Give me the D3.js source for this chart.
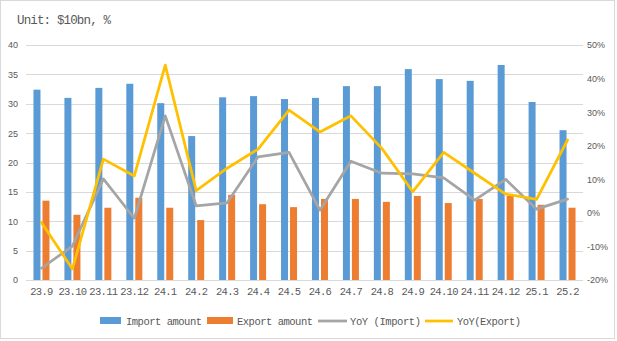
<!DOCTYPE html>
<html><head><meta charset="utf-8">
<script src="https://cdn.jsdelivr.net/npm/d3@7/dist/d3.min.js"></script>
<style>
html,body{margin:0;padding:0;background:#fff;}
svg{display:block;}
</style></head>
<body>
<svg id="chart" width="617" height="341"></svg>
<script>
const categories = ["23.9","23.10","23.11","23.12","24.1","24.2","24.3","24.4","24.5","24.6","24.7","24.8","24.9","24.10","24.11","24.12","25.1","25.2"];
const importAmount = [32.4,31.0,32.7,33.4,30.1,24.5,31.1,31.3,30.8,31.0,33.0,33.0,35.9,34.2,33.9,36.6,30.3,25.5];
const exportAmount = [13.5,11.1,12.3,14.0,12.3,10.2,14.5,12.9,12.4,13.8,13.8,13.3,14.3,13.1,13.8,14.3,12.8,12.3];
const yoyImport = [-16.5,-9.9,10.1,-1.6,28.9,2.1,3.0,16.7,18.0,0.8,15.4,11.8,11.6,10.4,3.8,10.0,1.1,4.1];
const yoyExport = [-2.9,-16.7,16.0,11.0,44.0,6.6,13.3,19.0,30.6,24.1,28.9,19.2,6.3,18.0,11.8,5.6,4.0,21.7];
const leftTicks = [0,5,10,15,20,25,30,35,40];
const rightTicks = [-20,-10,0,10,20,30,40,50];
const title = "Unit: $10bn, %";
const seriesNames = ["Import amount","Export amount","YoY (Import)","YoY(Export)"];
const colors = {imp:"#5B9BD5", exp:"#ED7D31", yImp:"#A5A5A5", yExp:"#FFC000"};

const svg = d3.select("#chart");
const plot = {left:26, right:583, top:45, bottom:280};

// border
svg.append("rect").attr("x",0.5).attr("y",0.5).attr("width",614).attr("height",338)
  .attr("fill","#fff").attr("stroke","#d9d9d9").attr("stroke-width",1);

const x = d3.scaleBand().domain(categories).range([plot.left, plot.right]).paddingInner(0).paddingOuter(0);
const sub = d3.scaleBand().domain(["imp","exp"]).range([-8,8]).paddingInner(2/9);
const yL = d3.scaleLinear().domain([0,40]).range([plot.bottom, plot.top]);
const yR = d3.scaleLinear().domain([-20,50]).range([plot.bottom, plot.top]);
const cx = c => x(c) + x.bandwidth()/2;

// gridlines
svg.append("g").selectAll("line").data(leftTicks).join("line")
  .attr("x1",plot.left).attr("x2",plot.right)
  .attr("y1",d=>Math.round(yL(d))+0.5).attr("y2",d=>Math.round(yL(d))+0.5)
  .attr("stroke","#d9d9d9").attr("stroke-width",1);

// left axis labels
const leftAxis = d3.axisLeft(yL).tickValues(leftTicks).tickSize(0).tickPadding(0);
const gL = svg.append("g").attr("transform",`translate(18,0)`).call(leftAxis);
gL.select(".domain").remove();
gL.selectAll("text").attr("font-family","'Liberation Sans',Arial,sans-serif").attr("font-size",9).attr("fill","#595959");

// right axis labels
const rightAxis = d3.axisRight(yR).tickValues(rightTicks).tickSize(0).tickPadding(0).tickFormat(d=>d+"%");
const gR = svg.append("g").attr("transform",`translate(587,0)`).call(rightAxis);
gR.select(".domain").remove();
gR.selectAll("text").attr("font-family","'Liberation Sans',Arial,sans-serif").attr("font-size",9).attr("fill","#595959");

// x axis labels
const xAxis = d3.axisBottom(x).tickSize(0).tickPadding(0);
const gX = svg.append("g").attr("transform",`translate(0,288)`).call(xAxis);
gX.select(".domain").remove();
gX.selectAll("text").attr("font-family","'Liberation Mono',monospace").attr("font-size",10.5)
  .attr("letter-spacing",-0.7).attr("fill","#595959");

// bars
svg.append("g").selectAll("rect").data(categories).join("rect")
  .attr("x",(c)=>cx(c)+sub("imp")).attr("width",sub.bandwidth())
  .attr("y",(c,i)=>yL(importAmount[i])).attr("height",(c,i)=>yL(0)-yL(importAmount[i]))
  .attr("fill",colors.imp);
svg.append("g").selectAll("rect").data(categories).join("rect")
  .attr("x",(c)=>cx(c)+sub("exp")).attr("width",sub.bandwidth())
  .attr("y",(c,i)=>yL(exportAmount[i])).attr("height",(c,i)=>yL(0)-yL(exportAmount[i]))
  .attr("fill",colors.exp);

// lines
const line = d3.line().x((d,i)=>cx(categories[i])).y(d=>yR(d));
svg.append("path").datum(yoyImport).attr("d",line).attr("fill","none")
  .attr("stroke",colors.yImp).attr("stroke-width",2.75).attr("stroke-linejoin","round").attr("stroke-linecap","round");
svg.append("path").datum(yoyExport).attr("d",line).attr("fill","none")
  .attr("stroke",colors.yExp).attr("stroke-width",2.75).attr("stroke-linejoin","round").attr("stroke-linecap","round");

// title
svg.append("text").attr("x",17).attr("y",24).text(title)
  .attr("font-family","'Liberation Mono',monospace").attr("font-size",12.5).attr("letter-spacing",-0.85)
  .attr("fill","#595959");

// legend
const legendItems = [
  {name:seriesNames[0], type:"rect", color:colors.imp, sx:100, sw:21, tx:126, tw:76},
  {name:seriesNames[1], type:"rect", color:colors.exp, sx:207, sw:26, tx:237, tw:76},
  {name:seriesNames[2], type:"line", color:colors.yImp, sx:318, sw:29, tx:350, tw:71},
  {name:seriesNames[3], type:"line", color:colors.yExp, sx:425, sw:28, tx:457, tw:64}
];
const lg = svg.append("g");
legendItems.forEach(it=>{
  if(it.type==="rect"){
    lg.append("rect").attr("x",it.sx).attr("y",317).attr("width",it.sw).attr("height",7).attr("fill",it.color);
  } else {
    lg.append("line").attr("x1",it.sx).attr("x2",it.sx+it.sw).attr("y1",321).attr("y2",321)
      .attr("stroke",it.color).attr("stroke-width",2.75);
  }
  lg.append("text").attr("x",it.tx).attr("y",324.5).text(it.name)
    .attr("font-family","'Liberation Mono',monospace").attr("font-size",10.5)
    .attr("textLength",it.tw).attr("lengthAdjust","spacing").attr("fill","#595959");
});
</script>
</body></html>
